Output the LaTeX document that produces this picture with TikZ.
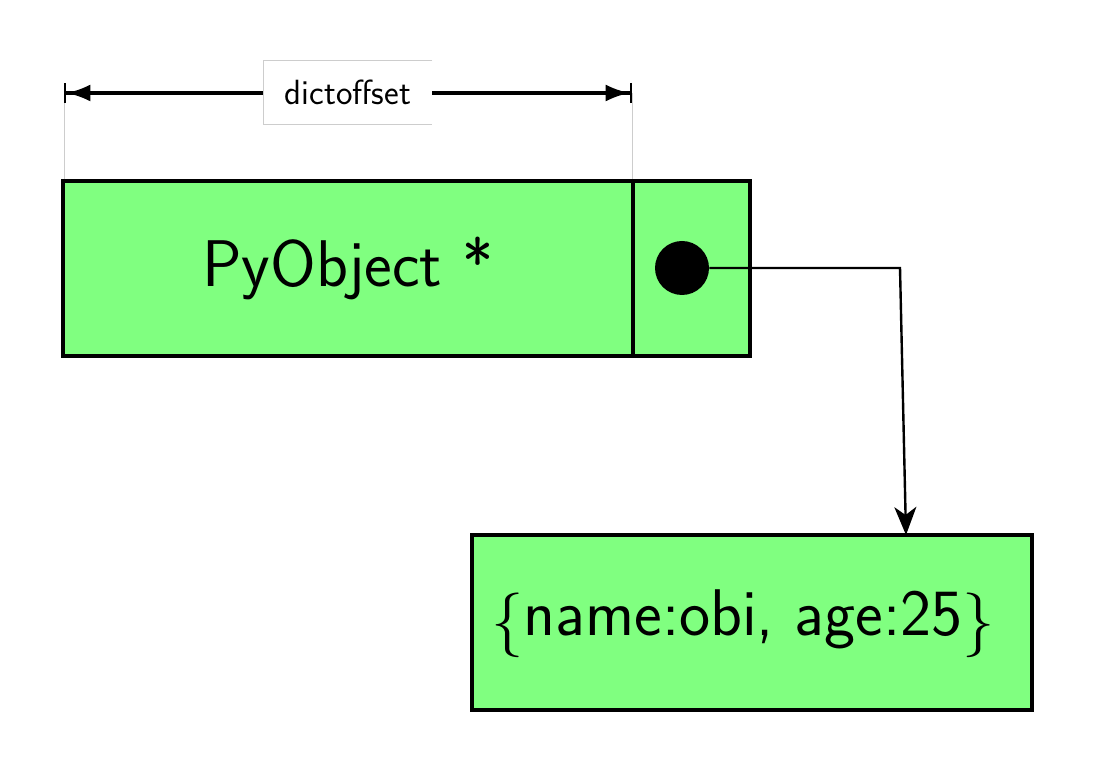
\documentclass[tikz,border=0pt]{standalone}
\usetikzlibrary{arrows.meta}
\definecolor{boxgreen}{RGB}{128,255,128}
\definecolor{thingray}{RGB}{205,205,205}
\begin{document}
\begin{tikzpicture}[x=0.5pt,y=-0.5pt,
  cell/.style={draw=black, line width=1.7pt, fill=boxgreen, inner sep=0pt, minimum height=87.5pt},
  bigtext/.style={font=\sffamily\fontsize{33}{40}\selectfont},
  dimline/.style={line width=1.7pt, {Bar[width=10pt,line width=1.2pt]Latex[length=12pt,width=8.5pt]}-{Latex[length=12pt,width=8.5pt]Bar[width=10pt,line width=1.2pt]}},
  extline/.style={draw=thingray, line width=0.5pt},
  pointer/.style={line width=1.2pt, -{Stealth[length=14pt,width=11pt,inset=4pt]}}
]
\useasboundingbox (0,0) rectangle (1096,774);
% main object
\node[cell, minimum width=285pt, bigtext] (obj) at (348,268.5) {PyObject *};
\node[cell, minimum width=58.5pt] (slot) at (691.5,268.5) {};
% dict box
\node[cell, minimum width=280pt] (dict) at (752,622.5) {};
\node[bigtext, inner sep=0pt] (dicttext) at (743,624) {\raisebox{-0.09em}{\scalebox{1.3}{$\{$}}name:obi, age:25\raisebox{-0.09em}{\scalebox{1.3}{$\}$}}};
% dimension
\coordinate (dimL) at (64,93);
\coordinate (dimR) at (632,93);
\draw[extline] (dimL) -- (dimL |- obj.north);
\draw[extline] (dimR) -- (dimR |- slot.north);
\draw[dimline] (dimL) -- (dimR);
\node[fill=white, minimum width=84pt, minimum height=31.5pt, inner sep=0pt,
      font=\sffamily\fontsize{17.5}{21}\selectfont] (lab) at (348,92.5) {dictoffset};
\draw[draw=thingray, line width=0.6pt] (lab.north east) -- (lab.north west) -- (lab.south west) -- (lab.south east);
% pointer
\coordinate (turn) at (900,268);
\coordinate (hit) at (906,535);
\node[circle, fill=black, minimum size=27pt, inner sep=0pt] (dot) at (682,268) {};
\draw[pointer] (dot.east) -- (turn) -- (hit);
\end{tikzpicture}
\end{document}
